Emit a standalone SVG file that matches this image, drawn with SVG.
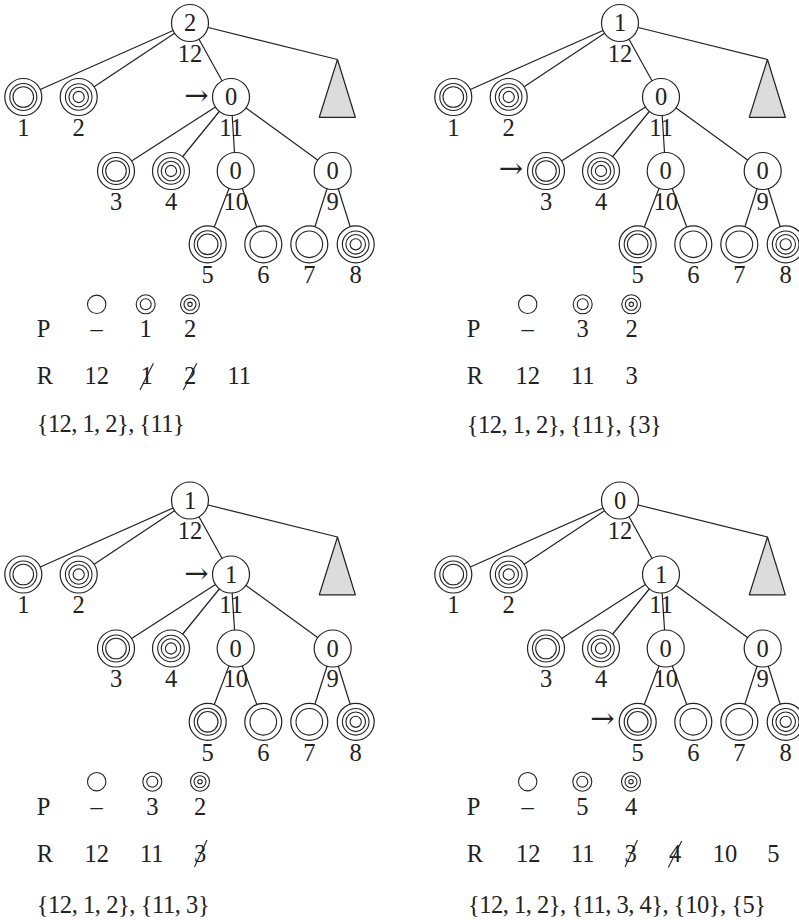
<svg xmlns="http://www.w3.org/2000/svg" xmlns:xlink="http://www.w3.org/1999/xlink" width="799" height="920" viewBox="0 0 799 920">
<style>
.e{stroke:#222;stroke-width:1.2;fill:none}
.c{fill:#fff;stroke:#222;stroke-width:1.2}
.r{fill:none;stroke:#222;stroke-width:1.1}
.t{font-family:"Liberation Serif","DejaVu Serif",serif;font-size:24.5px;fill:#222;text-anchor:middle}
.s{text-anchor:start}
.tri{fill:#dcdcdc;stroke:#222;stroke-width:1.2;stroke-linejoin:round}
.ar{font-family:"DejaVu Serif",serif;font-size:29px;fill:#222;text-anchor:end}
.k{stroke:#222;stroke-width:1.1}
</style>
<defs>
<g id="lA"><circle class="c" r="18.5"/><circle class="r" r="13.5"/><circle class="r" r="10.3"/></g>
<g id="lB"><circle class="c" r="18.5"/><circle class="r" r="13.3"/><circle class="r" r="9.8"/><circle class="r" r="5.6"/></g>
<g id="lC"><circle class="c" r="18.5"/><circle class="r" r="13.3"/></g>
<g id="g0"><circle class="r" r="9.2"/></g>
<g id="g1"><circle class="r" r="9.5"/><circle class="r" r="5.5"/></g>
<g id="g2"><circle class="r" r="9.5"/><circle class="r" r="6"/><circle class="r" r="2.2"/></g>
</defs>
<rect width="799" height="920" fill="#fff"/>

<!-- ===== Top-left panel ===== -->
<g id="p1">
<g id="p1-edges" class="e">
<line x1="190" y1="23" x2="23.3" y2="97"/>
<line x1="190" y1="23" x2="78.7" y2="97"/>
<line x1="190" y1="23" x2="231" y2="97"/>
<line x1="190" y1="23" x2="337.5" y2="59.5"/>
<line x1="231" y1="97" x2="116" y2="171"/>
<line x1="231" y1="97" x2="171" y2="171"/>
<line x1="231" y1="97" x2="235.7" y2="171"/>
<line x1="231" y1="97" x2="332.7" y2="171"/>
<line x1="235.7" y1="171" x2="207.7" y2="244.3"/>
<line x1="235.7" y1="171" x2="263.3" y2="244.3"/>
<line x1="332.7" y1="171" x2="309.3" y2="244.3"/>
<line x1="332.7" y1="171" x2="355.7" y2="244.3"/>
</g>
<g id="p1-n12"><circle class="c" cx="190" cy="23" r="18.5"/><text class="t" x="190" y="31.3">2</text><text class="t" x="190" y="61.5">12</text></g>
<g id="p1-n1"><use href="#lA" x="23.3" y="97"/><text class="t" x="23.3" y="135.5">1</text></g>
<g id="p1-n2"><use href="#lB" x="78.7" y="97"/><text class="t" x="78.7" y="135.5">2</text></g>
<g id="p1-n11"><circle class="c" cx="231" cy="97" r="18.5"/><text class="t" x="231" y="105.3">0</text><text class="t" x="231" y="135.5">11</text></g>
<g id="p1-sub"><polygon class="tri" points="337.5,59.5 319.3,117.3 355.3,117.3"/></g>
<g id="p1-n3"><use href="#lA" x="116" y="171"/><text class="t" x="116" y="209.5">3</text></g>
<g id="p1-n4"><use href="#lB" x="171" y="171"/><text class="t" x="171" y="209.5">4</text></g>
<g id="p1-n10"><circle class="c" cx="235.7" cy="171" r="18.5"/><text class="t" x="235.7" y="179.3">0</text><text class="t" x="235.7" y="209.5">10</text></g>
<g id="p1-n9"><circle class="c" cx="332.7" cy="171" r="18.5"/><text class="t" x="332.7" y="179.3">0</text><text class="t" x="332.7" y="209.5">9</text></g>
<g id="p1-n5"><use href="#lA" x="207.7" y="244.3"/><text class="t" x="207.7" y="283">5</text></g>
<g id="p1-n6"><use href="#lC" x="263.3" y="244.3"/><text class="t" x="263.3" y="283">6</text></g>
<g id="p1-n7"><use href="#lC" x="309.3" y="244.3"/><text class="t" x="309.3" y="283">7</text></g>
<g id="p1-n8"><use href="#lB" x="355.7" y="244.3"/><text class="t" x="355.7" y="283">8</text></g>
<text class="ar" x="208.5" y="105">→</text>
<g id="p1-table">
<use href="#g0" x="96.7" y="304.3"/><use href="#g1" x="145.7" y="304.3"/><use href="#g2" x="190" y="304.3"/>
<text class="t s" x="36.7" y="337.3">P</text><text class="t" x="96.7" y="337.3">–</text><text class="t" x="145.7" y="337.3">1</text><text class="t" x="190" y="337.3">2</text>
<text class="t s" x="36.7" y="384">R</text><text class="t" x="96.7" y="384">12</text><text class="t" x="146.7" y="384">1</text><text class="t" x="190" y="384">2</text><text class="t" x="239.3" y="384">11</text>
<line class="k" x1="140" y1="390" x2="153.4" y2="363.3"/><line class="k" x1="183.3" y1="390" x2="196.7" y2="363.3"/>
<text class="t s" x="36.7" y="432" textLength="148" lengthAdjust="spacing">{12, 1, 2}, {11}</text>
</g>
</g>

<!-- ===== Top-right panel ===== -->
<g id="p2" transform="translate(430,0)">
<g id="p2-edges" class="e">
<line x1="190" y1="23" x2="23.3" y2="97"/>
<line x1="190" y1="23" x2="78.7" y2="97"/>
<line x1="190" y1="23" x2="231" y2="97"/>
<line x1="190" y1="23" x2="337.5" y2="59.5"/>
<line x1="231" y1="97" x2="116" y2="171"/>
<line x1="231" y1="97" x2="171" y2="171"/>
<line x1="231" y1="97" x2="235.7" y2="171"/>
<line x1="231" y1="97" x2="332.7" y2="171"/>
<line x1="235.7" y1="171" x2="207.7" y2="244.3"/>
<line x1="235.7" y1="171" x2="263.3" y2="244.3"/>
<line x1="332.7" y1="171" x2="309.3" y2="244.3"/>
<line x1="332.7" y1="171" x2="355.7" y2="244.3"/>
</g>
<g id="p2-n12"><circle class="c" cx="190" cy="23" r="18.5"/><text class="t" x="190" y="31.3">1</text><text class="t" x="190" y="61.5">12</text></g>
<g id="p2-n1"><use href="#lA" x="23.3" y="97"/><text class="t" x="23.3" y="135.5">1</text></g>
<g id="p2-n2"><use href="#lB" x="78.7" y="97"/><text class="t" x="78.7" y="135.5">2</text></g>
<g id="p2-n11"><circle class="c" cx="231" cy="97" r="18.5"/><text class="t" x="231" y="105.3">0</text><text class="t" x="231" y="135.5">11</text></g>
<g id="p2-sub"><polygon class="tri" points="337.5,59.5 319.3,117.3 355.3,117.3"/></g>
<g id="p2-n3"><use href="#lA" x="116" y="171"/><text class="t" x="116" y="209.5">3</text></g>
<g id="p2-n4"><use href="#lB" x="171" y="171"/><text class="t" x="171" y="209.5">4</text></g>
<g id="p2-n10"><circle class="c" cx="235.7" cy="171" r="18.5"/><text class="t" x="235.7" y="179.3">0</text><text class="t" x="235.7" y="209.5">10</text></g>
<g id="p2-n9"><circle class="c" cx="332.7" cy="171" r="18.5"/><text class="t" x="332.7" y="179.3">0</text><text class="t" x="332.7" y="209.5">9</text></g>
<g id="p2-n5"><use href="#lA" x="207.7" y="244.3"/><text class="t" x="207.7" y="283">5</text></g>
<g id="p2-n6"><use href="#lC" x="263.3" y="244.3"/><text class="t" x="263.3" y="283">6</text></g>
<g id="p2-n7"><use href="#lC" x="309.3" y="244.3"/><text class="t" x="309.3" y="283">7</text></g>
<g id="p2-n8"><use href="#lB" x="355.7" y="244.3"/><text class="t" x="355.7" y="283">8</text></g>
<text class="ar" x="93" y="177.5">→</text>
<g id="p2-table">
<use href="#g0" x="97.7" y="304.3"/><use href="#g1" x="152.7" y="304.3"/><use href="#g2" x="201.3" y="304.3"/>
<text class="t s" x="36.7" y="337.3">P</text><text class="t" x="97.7" y="337.3">–</text><text class="t" x="152.7" y="337.3">3</text><text class="t" x="201.7" y="337.3">2</text>
<text class="t s" x="36.7" y="384">R</text><text class="t" x="97.7" y="384">12</text><text class="t" x="152.7" y="384">11</text><text class="t" x="201.7" y="384">3</text>
<text class="t s" x="36.7" y="432.5" textLength="195" lengthAdjust="spacing">{12, 1, 2}, {11}, {3}</text>
</g>
</g>

<!-- ===== Bottom-left panel ===== -->
<g id="p3" transform="translate(0,477.5)">
<g id="p3-edges" class="e">
<line x1="190" y1="23" x2="23.3" y2="97"/>
<line x1="190" y1="23" x2="78.7" y2="97"/>
<line x1="190" y1="23" x2="231" y2="97"/>
<line x1="190" y1="23" x2="337.5" y2="59.5"/>
<line x1="231" y1="97" x2="116" y2="171"/>
<line x1="231" y1="97" x2="171" y2="171"/>
<line x1="231" y1="97" x2="235.7" y2="171"/>
<line x1="231" y1="97" x2="332.7" y2="171"/>
<line x1="235.7" y1="171" x2="207.7" y2="244.3"/>
<line x1="235.7" y1="171" x2="263.3" y2="244.3"/>
<line x1="332.7" y1="171" x2="309.3" y2="244.3"/>
<line x1="332.7" y1="171" x2="355.7" y2="244.3"/>
</g>
<g id="p3-n12"><circle class="c" cx="190" cy="23" r="18.5"/><text class="t" x="190" y="31.3">1</text><text class="t" x="190" y="61.5">12</text></g>
<g id="p3-n1"><use href="#lA" x="23.3" y="97"/><text class="t" x="23.3" y="135.5">1</text></g>
<g id="p3-n2"><use href="#lB" x="78.7" y="97"/><text class="t" x="78.7" y="135.5">2</text></g>
<g id="p3-n11"><circle class="c" cx="231" cy="97" r="18.5"/><text class="t" x="231" y="105.3">1</text><text class="t" x="231" y="135.5">11</text></g>
<g id="p3-sub"><polygon class="tri" points="337.5,59.5 319.3,117.3 355.3,117.3"/></g>
<g id="p3-n3"><use href="#lA" x="116" y="171"/><text class="t" x="116" y="209.5">3</text></g>
<g id="p3-n4"><use href="#lB" x="171" y="171"/><text class="t" x="171" y="209.5">4</text></g>
<g id="p3-n10"><circle class="c" cx="235.7" cy="171" r="18.5"/><text class="t" x="235.7" y="179.3">0</text><text class="t" x="235.7" y="209.5">10</text></g>
<g id="p3-n9"><circle class="c" cx="332.7" cy="171" r="18.5"/><text class="t" x="332.7" y="179.3">0</text><text class="t" x="332.7" y="209.5">9</text></g>
<g id="p3-n5"><use href="#lA" x="207.7" y="244.3"/><text class="t" x="207.7" y="283">5</text></g>
<g id="p3-n6"><use href="#lC" x="263.3" y="244.3"/><text class="t" x="263.3" y="283">6</text></g>
<g id="p3-n7"><use href="#lC" x="309.3" y="244.3"/><text class="t" x="309.3" y="283">7</text></g>
<g id="p3-n8"><use href="#lB" x="355.7" y="244.3"/><text class="t" x="355.7" y="283">8</text></g>
<text class="ar" x="208.5" y="105">→</text>
<g id="p3-table">
<use href="#g0" x="96.7" y="304.2"/><use href="#g1" x="152.3" y="304.2"/><use href="#g2" x="200" y="304.2"/>
<text class="t s" x="36.7" y="337.5">P</text><text class="t" x="96.7" y="337.5">–</text><text class="t" x="152.3" y="337.5">3</text><text class="t" x="200" y="337.5">2</text>
<text class="t s" x="36.7" y="384.2">R</text><text class="t" x="96.7" y="384.2">12</text><text class="t" x="151.7" y="384.2">11</text><text class="t" x="200" y="384.2">3</text>
<line class="k" x1="194.5" y1="389.5" x2="207" y2="362.5"/>
<text class="t s" x="36.7" y="435.5" textLength="173" lengthAdjust="spacing">{12, 1, 2}, {11, 3}</text>
</g>
</g>

<!-- ===== Bottom-right panel ===== -->
<g id="p4" transform="translate(430,477.5)">
<g id="p4-edges" class="e">
<line x1="190" y1="23" x2="23.3" y2="97"/>
<line x1="190" y1="23" x2="78.7" y2="97"/>
<line x1="190" y1="23" x2="231" y2="97"/>
<line x1="190" y1="23" x2="337.5" y2="59.5"/>
<line x1="231" y1="97" x2="116" y2="171"/>
<line x1="231" y1="97" x2="171" y2="171"/>
<line x1="231" y1="97" x2="235.7" y2="171"/>
<line x1="231" y1="97" x2="332.7" y2="171"/>
<line x1="235.7" y1="171" x2="207.7" y2="244.3"/>
<line x1="235.7" y1="171" x2="263.3" y2="244.3"/>
<line x1="332.7" y1="171" x2="309.3" y2="244.3"/>
<line x1="332.7" y1="171" x2="355.7" y2="244.3"/>
</g>
<g id="p4-n12"><circle class="c" cx="190" cy="23" r="18.5"/><text class="t" x="190" y="31.3">0</text><text class="t" x="190" y="61.5">12</text></g>
<g id="p4-n1"><use href="#lA" x="23.3" y="97"/><text class="t" x="23.3" y="135.5">1</text></g>
<g id="p4-n2"><use href="#lB" x="78.7" y="97"/><text class="t" x="78.7" y="135.5">2</text></g>
<g id="p4-n11"><circle class="c" cx="231" cy="97" r="18.5"/><text class="t" x="231" y="105.3">1</text><text class="t" x="231" y="135.5">11</text></g>
<g id="p4-sub"><polygon class="tri" points="337.5,59.5 319.3,117.3 355.3,117.3"/></g>
<g id="p4-n3"><use href="#lA" x="116" y="171"/><text class="t" x="116" y="209.5">3</text></g>
<g id="p4-n4"><use href="#lB" x="171" y="171"/><text class="t" x="171" y="209.5">4</text></g>
<g id="p4-n10"><circle class="c" cx="235.7" cy="171" r="18.5"/><text class="t" x="235.7" y="179.3">0</text><text class="t" x="235.7" y="209.5">10</text></g>
<g id="p4-n9"><circle class="c" cx="332.7" cy="171" r="18.5"/><text class="t" x="332.7" y="179.3">0</text><text class="t" x="332.7" y="209.5">9</text></g>
<g id="p4-n5"><use href="#lA" x="207.7" y="244.3"/><text class="t" x="207.7" y="283">5</text></g>
<g id="p4-n6"><use href="#lC" x="263.3" y="244.3"/><text class="t" x="263.3" y="283">6</text></g>
<g id="p4-n7"><use href="#lC" x="309.3" y="244.3"/><text class="t" x="309.3" y="283">7</text></g>
<g id="p4-n8"><use href="#lB" x="355.7" y="244.3"/><text class="t" x="355.7" y="283">8</text></g>
<text class="ar" x="184.5" y="250.5">→</text>
<g id="p4-table">
<use href="#g0" x="97.7" y="304.2"/><use href="#g1" x="152.3" y="304.2"/><use href="#g2" x="201" y="304.2"/>
<text class="t s" x="36.7" y="337.5">P</text><text class="t" x="97.7" y="337.5">–</text><text class="t" x="152.3" y="337.5">5</text><text class="t" x="201" y="337.5">4</text>
<text class="t s" x="36.7" y="384.2">R</text><text class="t" x="98.3" y="384.2">12</text><text class="t" x="152.7" y="384.2">11</text><text class="t" x="200.7" y="384.2">3</text><text class="t" x="245" y="384.2">4</text><text class="t" x="295" y="384.2">10</text><text class="t" x="343.3" y="384.2">5</text>
<line class="k" x1="195" y1="389.5" x2="207.5" y2="362.5"/><line class="k" x1="238.3" y1="390" x2="251.7" y2="363.5"/>
<text class="t s" x="38" y="435.5" textLength="298" lengthAdjust="spacing">{12, 1, 2}, {11, 3, 4}, {10}, {5}</text>
</g>
</g>
</svg>
